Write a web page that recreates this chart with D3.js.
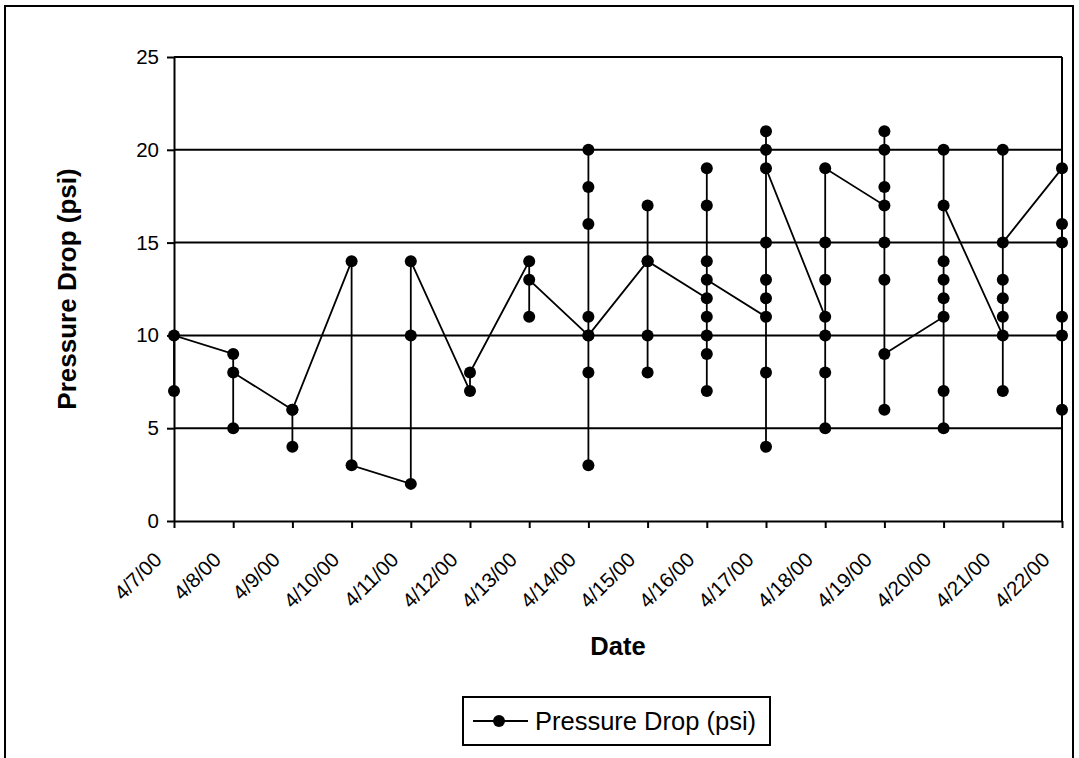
<!DOCTYPE html>
<html>
<head>
<meta charset="utf-8">
<script src="https://cdn.jsdelivr.net/npm/d3@7"></script>
<style>
  body { margin: 0; background: #fff; }
  svg { display: block; font-family: 'Liberation Sans', Arial, sans-serif; }
  .grid line { stroke: #000; stroke-width: 2; }
  .axis path, .axis line { stroke: #000; stroke-width: 2; }
  .axis text { fill: #000; }
  .line-actual { fill: none; stroke: #000; stroke-width: 1.8; }
  .point-actual { fill: #000; }
</style>
</head>
<body>
<div id="chart"></div>
<script>
// Readings per day, in the order they were logged
let dayLabels = ['4/7/00', '4/8/00', '4/9/00', '4/10/00', '4/11/00', '4/12/00', '4/13/00', '4/14/00',
                 '4/15/00', '4/16/00', '4/17/00', '4/18/00', '4/19/00', '4/20/00', '4/21/00', '4/22/00']

let pressureByDay = [
  [7, 10],
  [9, 5, 8],
  [6, 4, 6],
  [14, 3],
  [2, 10, 14],
  [7, 8],
  [14, 11, 13],
  [10, 3, 8, 11, 16, 18, 20, 10],
  [14, 17, 10, 8, 14],
  [12, 7, 9, 10, 11, 14, 17, 19, 13],
  [11, 4, 8, 12, 13, 15, 20, 21, 19],
  [11, 5, 8, 10, 13, 15, 19],
  [17, 21, 20, 18, 15, 13, 6, 9],
  [11, 5, 7, 12, 13, 14, 20, 17],
  [10, 7, 11, 12, 13, 20, 15],
  [19, 16, 6, 10, 11, 15]
]

let yTicks = [0, 5, 10, 15, 20, 25]
let seriesName = 'Pressure Drop (psi)'

// Flatten to rows of {day, value}
let readings = []
pressureByDay.forEach((vals, i) => {
  vals.forEach(v => readings.push({ day: dayLabels[i], value: v }))
})

let svgWidth = 1079,
    svgHeight = 758

let margin = { top: 57, right: 17, bottom: 237, left: 174 },
    width = svgWidth - margin.left - margin.right,
    height = svgHeight - margin.top - margin.bottom

let root = d3.select('#chart').append('svg')
    .attr('width', svgWidth)
    .attr('height', svgHeight)

// Chart area border (runs off the bottom of the picture)
root.append('rect')
  .attr('x', 5)
  .attr('y', 6)
  .attr('width', 1068)
  .attr('height', 800)
  .attr('fill', 'none')
  .attr('stroke', '#000')
  .attr('stroke-width', 2)

let svg = root.append('g')
    .attr('transform', 'translate(' + margin.left + ',' + margin.top + ')')

let xScale = d3.scalePoint()
    .domain(dayLabels)
    .range([0, width])

let yScale = d3.scaleLinear()
    .domain([0, 25])
    .range([height, 0])

// Gridlines
svg.append('g')
  .attr('class', 'grid')
  .selectAll('line')
  .data(yTicks.filter(d => d > 0))
  .enter().append('line')
  .attr('x1', 0)
  .attr('x2', width)
  .attr('y1', d => yScale(d))
  .attr('y2', d => yScale(d))

// Right edge of plot area
svg.append('line')
  .attr('x1', width)
  .attr('x2', width)
  .attr('y1', 0)
  .attr('y2', height)
  .attr('stroke', '#000')
  .attr('stroke-width', 2)

// Axes
let yAxis = d3.axisLeft(yScale)
    .tickValues(yTicks)
    .tickSize(7)
    .tickPadding(8)
    .tickSizeOuter(0)

svg.append('g')
  .attr('class', 'axis axis-y')
  .call(yAxis)
  .selectAll('text')
  .style('font-size', '20.5px')

let xAxis = d3.axisBottom(xScale)
    .tickSize(7)
    .tickSizeOuter(0)
    .tickFormat('')

svg.append('g')
  .attr('class', 'axis axis-x')
  .attr('transform', 'translate(0,' + height + ')')
  .call(xAxis)

// Rotated date labels
svg.append('g')
  .selectAll('text')
  .data(dayLabels)
  .enter().append('text')
  .attr('transform', d => 'translate(' + (xScale(d) - 11) + ',' + (height + 40) + ') rotate(-45)')
  .attr('text-anchor', 'end')
  .style('font-size', '20.5px')
  .text(d => d)

// Axis titles
svg.append('text')
  .attr('x', width / 2)
  .attr('y', height + 134)
  .attr('text-anchor', 'middle')
  .style('font-size', '25.5px')
  .style('font-weight', 'bold')
  .text('Date')

svg.append('text')
  .attr('transform', 'translate(' + (-98) + ',' + (height / 2) + ') rotate(-90)')
  .attr('text-anchor', 'middle')
  .style('font-size', '26px')
  .style('font-weight', 'bold')
  .text(seriesName)

// Data line
let line = d3.line()
    .x(d => xScale(d.day))
    .y(d => yScale(d.value))

svg.append('path')
  .datum(readings)
  .attr('class', 'line-actual')
  .attr('d', line)

svg.selectAll('.point-actual')
  .data(readings)
  .enter().append('circle')
  .attr('class', 'point-actual')
  .attr('cx', d => xScale(d.day))
  .attr('cy', d => yScale(d.value))
  .attr('r', 6)

// Legend
let legend = root.append('g')
    .attr('transform', 'translate(463,697)')

legend.append('rect')
  .attr('width', 307)
  .attr('height', 48)
  .attr('fill', '#fff')
  .attr('stroke', '#000')
  .attr('stroke-width', 2)

legend.append('line')
  .attr('x1', 10)
  .attr('x2', 65)
  .attr('y1', 24)
  .attr('y2', 24)
  .attr('stroke', '#000')
  .attr('stroke-width', 2)

legend.append('circle')
  .attr('cx', 36)
  .attr('cy', 24)
  .attr('r', 6)
  .attr('fill', '#000')

legend.append('text')
  .attr('x', 72)
  .attr('y', 24)
  .attr('dy', '0.36em')
  .style('font-size', '25.5px')
  .text(seriesName)
</script>
</body>
</html>
